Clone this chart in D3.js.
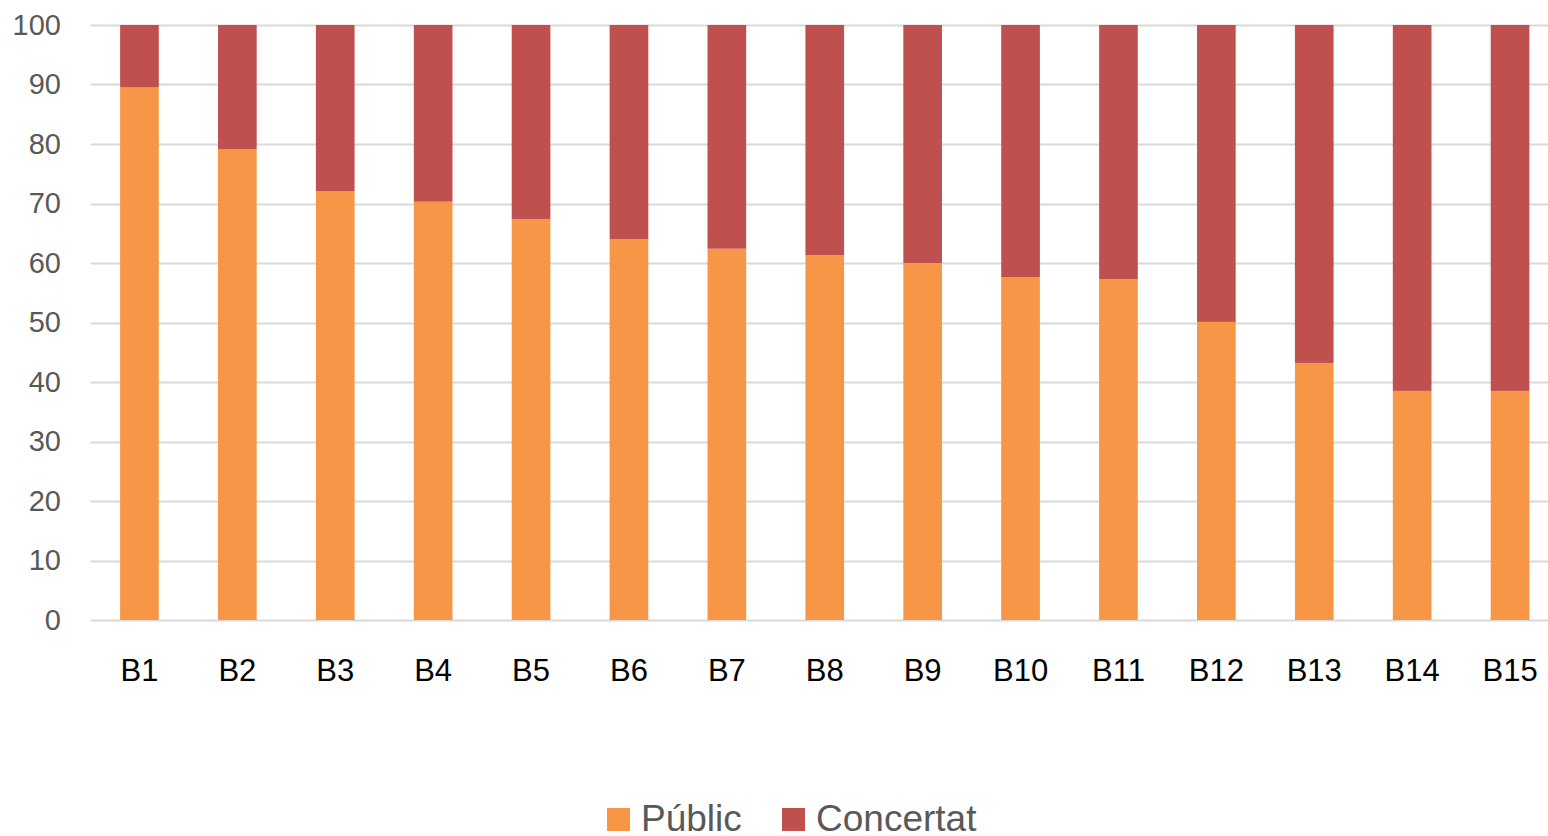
<!DOCTYPE html>
<html><head><meta charset="utf-8">
<script src="https://cdn.jsdelivr.net/npm/d3@7"></script>
<style>body{margin:0;background:#fff}svg{display:block}</style>
</head><body>
<svg id="c" width="1548" height="836"></svg>
<script>
const categories = ["B1","B2","B3","B4","B5","B6","B7","B8","B9","B10","B11","B12","B13","B14","B15"];
const publicValues = [89.5,79.1,72.1,70.3,67.4,64.0,62.4,61.3,60.0,57.6,57.3,50.1,43.2,38.5,38.5];
const concertatValues = publicValues.map(v => +(100 - v).toFixed(1));
const seriesNames = ["Públic","Concertat"];
const seriesColors = ["#F79646","#C0504D"];
const yTicks = [0,10,20,30,40,50,60,70,80,90,100];

const svg = d3.select("#c");
const plotLeft = 90.5, plotRight = 1559, plotTop = 25, plotBottom = 620;
const x = d3.scaleBand().domain(categories).range([plotLeft, plotRight]).paddingInner(0.605).paddingOuter(0.3025);
const y = d3.scaleLinear().domain([0,100]).range([plotBottom, plotTop]);

// gridlines
svg.append("g").selectAll("line").data(yTicks).join("line")
  .attr("x1", plotLeft).attr("x2", 1548)
  .attr("y1", d => Math.round(y(d)) + 0.5).attr("y2", d => Math.round(y(d)) + 0.5)
  .attr("stroke", "#D9D9D9").attr("stroke-width", 2);

// y axis labels
const yAxis = d3.axisLeft(y).tickValues(yTicks).tickSize(0).tickPadding(0);
const yg = svg.append("g").attr("transform", `translate(${61},0)`).call(yAxis);
yg.select(".domain").remove();
yg.selectAll("text").attr("font-family","Liberation Sans, Arial, sans-serif").attr("font-size", 29).attr("fill","#595959");

// stacked bars
const rows = categories.map((c,i) => ({cat:c, "Públic": publicValues[i], "Concertat": concertatValues[i]}));
const stack = d3.stack().keys(seriesNames)(rows);
svg.append("g").selectAll("g").data(stack).join("g")
  .attr("fill", (d,i) => seriesColors[i])
  .selectAll("rect").data(d => d).join("rect")
  .attr("x", d => x(d.data.cat))
  .attr("width", x.bandwidth())
  .attr("y", d => y(d[1]))
  .attr("height", d => y(d[0]) - y(d[1]));

// x axis labels
const xAxis = d3.axisBottom(x).tickSize(0).tickPadding(0);
const xg = svg.append("g").attr("transform", `translate(0,${plotBottom})`).call(xAxis);
xg.select(".domain").remove();
xg.selectAll("text").attr("font-family","Liberation Sans, Arial, sans-serif").attr("font-size", 31).attr("fill","#000")
  .attr("dy", null).attr("y", 61);

// legend
const legendX = [607, 782];
const lg = svg.append("g");
seriesNames.forEach((n,i) => {
  lg.append("rect").attr("x", legendX[i]).attr("y", 808).attr("width", 23).attr("height", 23).attr("fill", seriesColors[i]);
  lg.append("text").attr("x", legendX[i] + 34).attr("y", 831)
    .attr("font-family","Liberation Sans, Arial, sans-serif").attr("font-size", 37).attr("fill","#595959").text(n);
});
</script>
</body></html>
